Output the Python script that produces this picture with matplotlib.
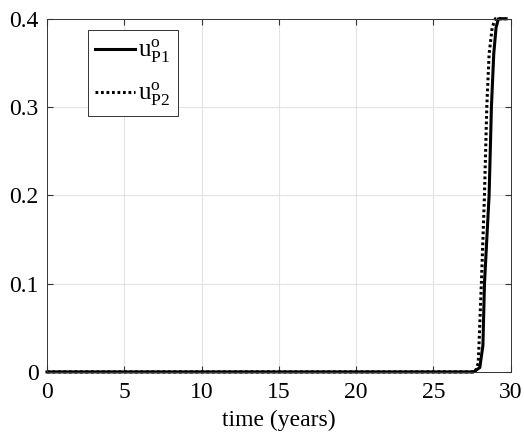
import matplotlib
matplotlib.use("Agg")
import matplotlib.pyplot as plt

plt.rcParams['font.family'] = ['Liberation Serif', 'DejaVu Serif']
plt.rcParams['mathtext.fontset'] = 'custom'
plt.rcParams['mathtext.rm'] = 'Liberation Serif'
plt.rcParams['mathtext.it'] = 'Liberation Serif:italic'

# data
t1 = [0, 27.6, 28.0, 28.2, 28.3, 28.45, 28.6, 28.75, 28.9, 29.05, 29.2, 29.7]
u1 = [0, 0, 0.005, 0.03, 0.1, 0.15, 0.2, 0.3, 0.36, 0.39, 0.4, 0.4]
t2 = [0, 27.7, 27.9, 28.1, 28.2, 28.3, 28.45, 28.6, 28.8, 29.0, 29.7]
u2 = [0, 0, 0.01, 0.1, 0.15, 0.2, 0.3, 0.36, 0.39, 0.4, 0.4]

fig = plt.figure(figsize=(5.24, 4.36), dpi=100)
ax = fig.add_axes([0.0897, 0.147, 0.885, 0.81])

ax.plot(t1, u1, color='black', lw=2.2, clip_on=False,
        label=r'$\mathrm{u}^{\mathrm{o}}_{\mathrm{P1}}$')
ax.plot(t2, u2, color='black', lw=2.2, dashes=(0.9, 0.9), clip_on=False,
        label=r'$\mathrm{u}^{\mathrm{o}}_{\mathrm{P2}}$')

ax.set_xlim(0, 30)
ax.set_ylim(0, 0.4)
ax.set_xticks([0, 5, 10, 15, 20, 25, 30])
ax.set_yticks([0, 0.1, 0.2, 0.3, 0.4])
ax.set_yticklabels(['0', '0.1', '0.2', '0.3', '0.4'])
ax.grid(True, color='#e3e3e3', lw=0.8)
ax.tick_params(direction='in', top=True, right=True, labelsize=17, length=4,
               color='#333333')
ax.tick_params(axis='x', pad=7)
ax.tick_params(axis='y', pad=6)
for s in ax.spines.values():
    s.set_color('#333333')
    s.set_linewidth(0.7)
ax.set_xlabel('time (years)', fontsize=17, labelpad=5)

leg = ax.legend(loc='upper left', bbox_to_anchor=(0.088, 0.967), fontsize=18,
                fancybox=False, edgecolor='#333333', framealpha=1,
                handlelength=1.6, handletextpad=0.1, borderpad=0.3,
                labelspacing=0.62, borderaxespad=0)
leg.get_frame().set_linewidth(0.7)

fig.savefig('out.png', dpi=100)
